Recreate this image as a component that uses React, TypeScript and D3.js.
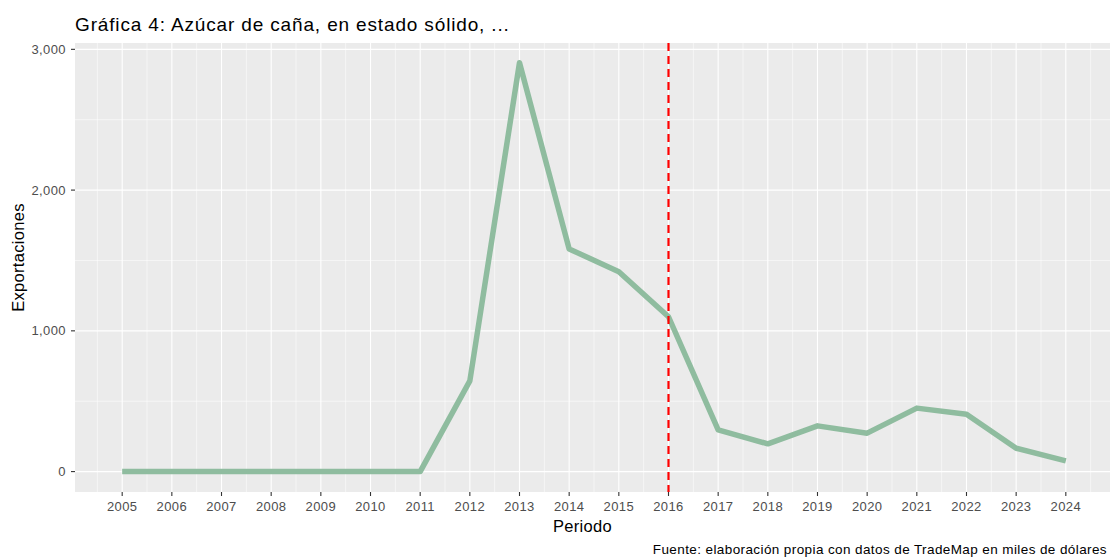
import * as d3 from 'd3'
import { useEffect, useRef } from 'react'

// datos
const years = [2005, 2006, 2007, 2008, 2009, 2010, 2011, 2012, 2013, 2014, 2015, 2016, 2017, 2018, 2019, 2020, 2021, 2022, 2023, 2024]
const exportaciones = [0, 0, 0, 0, 0, 0, 0, 645, 2905, 1582, 1420, 1100, 296, 197, 325, 273, 451, 408, 166, 76]
const yTicks = [0, 1000, 2000, 3000]
const yMinor = [500, 1500, 2500]
const cutYear = 2016

const width = 1110
const height = 558
const marginLeft = 75
const panelRight = 1113
const panelTop = 43
const panelBottom = 492
const font = 'Liberation Sans, Arial, sans-serif'

export default function App() {
	const svgRef = useRef<SVGSVGElement>(null)

	useEffect(() => {
		const svg = d3.select(svgRef.current)
		svg.selectAll('*').remove()

		const x = d3.scaleLinear().domain([2004.05, 2024.95]).range([marginLeft, panelRight])
		const y = d3.scaleLinear().domain([-145, 3045]).range([panelBottom, panelTop])

		// panel
		svg.append('rect')
			.attr('x', marginLeft).attr('y', panelTop)
			.attr('width', panelRight - marginLeft).attr('height', panelBottom - panelTop)
			.attr('fill', '#ebebeb')

		const g = svg.append('g')
		// rejilla menor
		const xMinor = years.map((d) => d + 0.5).slice(0, -1).concat([2004.5, 2024.5])
		g.selectAll('.xm').data(xMinor).join('line')
			.attr('x1', (d) => x(d)).attr('x2', (d) => x(d))
			.attr('y1', panelTop).attr('y2', panelBottom)
			.attr('stroke', '#fff').attr('stroke-width', 0.55)
		g.selectAll('.ym').data(yMinor).join('line')
			.attr('x1', marginLeft).attr('x2', panelRight)
			.attr('y1', (d) => y(d)).attr('y2', (d) => y(d))
			.attr('stroke', '#fff').attr('stroke-width', 0.55)
		// rejilla mayor
		g.selectAll('.xM').data(years).join('line')
			.attr('x1', (d) => x(d)).attr('x2', (d) => x(d))
			.attr('y1', panelTop).attr('y2', panelBottom)
			.attr('stroke', '#fff').attr('stroke-width', 1.1)
		g.selectAll('.yM').data(yTicks).join('line')
			.attr('x1', marginLeft).attr('x2', panelRight)
			.attr('y1', (d) => y(d)).attr('y2', (d) => y(d))
			.attr('stroke', '#fff').attr('stroke-width', 1.1)

		// línea
		const line = d3.line<number>()
			.x((d, i) => x(years[i]))
			.y((d) => y(d))
		svg.append('path')
			.datum(exportaciones)
			.attr('d', line)
			.attr('fill', 'none')
			.attr('stroke', '#8fbc9f')
			.attr('stroke-width', 5.5)
			.attr('stroke-linejoin', 'round')

		// corte
		svg.append('line')
			.attr('x1', x(cutYear)).attr('x2', x(cutYear))
			.attr('y1', panelTop).attr('y2', panelBottom)
			.attr('stroke', '#ff0000').attr('stroke-width', 2.2)
			.attr('stroke-dasharray', '8,5')

		// ejes
		const xAxis = svg.append('g')
		xAxis.selectAll('line').data(years).join('line')
			.attr('x1', (d) => x(d)).attr('x2', (d) => x(d))
			.attr('y1', panelBottom).attr('y2', panelBottom + 4)
			.attr('stroke', '#333').attr('stroke-width', 1.1)
		xAxis.selectAll('text').data(years).join('text')
			.attr('x', (d) => x(d)).attr('y', panelBottom + 19)
			.attr('text-anchor', 'middle')
			.attr('font-family', font).attr('font-size', 13).attr('letter-spacing', 0.4).attr('fill', '#4d4d4d')
			.text((d) => d)

		const yAxis = svg.append('g')
		yAxis.selectAll('line').data(yTicks).join('line')
			.attr('x1', marginLeft - 4).attr('x2', marginLeft)
			.attr('y1', (d) => y(d)).attr('y2', (d) => y(d))
			.attr('stroke', '#333').attr('stroke-width', 1.1)
		yAxis.selectAll('text').data(yTicks).join('text')
			.attr('x', marginLeft - 9).attr('y', (d) => y(d) + 4.5)
			.attr('text-anchor', 'end')
			.attr('font-family', font).attr('font-size', 13).attr('letter-spacing', 0.4).attr('fill', '#4d4d4d')
			.text((d) => d3.format(',')(d))

		// títulos
		svg.append('text')
			.attr('x', marginLeft).attr('y', 31)
			.attr('font-family', font).attr('font-size', 19).attr('letter-spacing', 0.85).attr('fill', '#000')
			.text('Gráfica 4: Azúcar de caña, en estado sólido, ...')
		svg.append('text')
			.attr('x', (marginLeft + 1090) / 2).attr('y', 532)
			.attr('text-anchor', 'middle')
			.attr('font-family', font).attr('font-size', 16.5).attr('letter-spacing', 0.3).attr('fill', '#000')
			.text('Periodo')
		svg.append('text')
			.attr('transform', `translate(24,${(panelTop + panelBottom) / 2 - 10}) rotate(-90)`)
			.attr('text-anchor', 'middle')
			.attr('font-family', font).attr('font-size', 16.5).attr('letter-spacing', 0.3).attr('fill', '#000')
			.text('Exportaciones')
		svg.append('text')
			.attr('x', 1107).attr('y', 554)
			.attr('text-anchor', 'end')
			.attr('font-family', font).attr('font-size', 13.5).attr('letter-spacing', 0.4).attr('fill', '#000')
			.text('Fuente: elaboración propia con datos de TradeMap en miles de dólares')
	}, [])

	return (
		<svg
			ref={svgRef}
			width={width}
			height={height}
			style={{ position: 'absolute', left: 0, top: 0, background: '#fff' }}
		></svg>
	)
}
